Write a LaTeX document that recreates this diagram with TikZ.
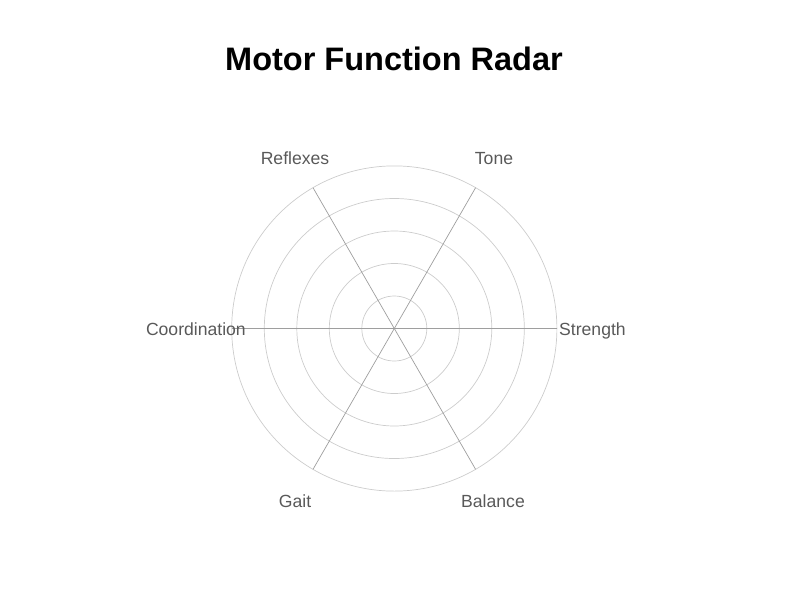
\documentclass[tikz,border=0pt]{standalone}
\usepackage{fontspec}
\setmainfont{Liberation Sans}
\begin{document}
\begin{tikzpicture}[x=1pt,y=-1pt,
    ring/.style={draw=black!20,line width=0.7pt},
    spoke/.style={draw=black!38,line width=0.7pt},
    axislabel/.style={text=black!65,inner sep=0pt,anchor=base,
      font=\fontsize{17.6}{20}\selectfont}]

  \useasboundingbox (0,0) rectangle (800,600);

  \node[anchor=base,inner sep=0pt,font=\bfseries\fontsize{32.5}{38}\selectfont]
    (title) at (394,70) {Motor Function Radar};

  \coordinate (center) at (394.3,328.5);

  % rings
  \foreach \r in {32.5,65,97.5,130,162.6}
    \draw[ring] (center) circle (\r);

  % spokes
  \foreach \name/\ang in {strength/0,tone/60,reflexes/120,coord/180,gait/240,balance/300}
    \path (center) ++(-\ang:162.6) coordinate (\name);
  \foreach \name in {strength,tone,reflexes,coord,gait,balance}
    \draw[spoke] (center) -- (\name);

  % labels
  \node[axislabel,anchor=base west] (lstrength) at (559,335) {Strength};
  \node[axislabel] (ltone)     at (494,164) {Tone};
  \node[axislabel] (lreflexes) at (295,164) {Reflexes};
  \node[axislabel,anchor=base east] (lcoord) at (246,335) {Coordination};
  \node[axislabel] (lgait)     at (295,507) {Gait};
  \node[axislabel] (lbalance)  at (493,507) {Balance};

\end{tikzpicture}
\end{document}
